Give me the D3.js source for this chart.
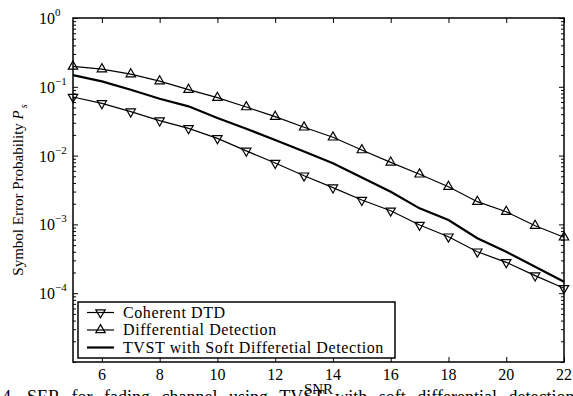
<!DOCTYPE html>
<html>
<head>
<meta charset="utf-8">
<script src="https://cdn.jsdelivr.net/npm/d3@7"></script>
<style>
  body { margin: 0; background: #fff; }
  svg { display: block; }
  text { font-family: "Liberation Serif", "Times New Roman", serif; fill: #000; }
</style>
</head>
<body>
<svg id="chart" width="573" height="396"></svg>
<script>
// SNR (dB) sample points
const snr = [5, 6, 7, 8, 9, 10, 11, 12, 13, 14, 15, 16, 17, 18, 19, 20, 21, 22];

// symbol error probability
const coherentDTD = [0.0711, 0.0575, 0.0435, 0.0322, 0.0249, 0.0178, 0.0117, 0.0078, 0.0051,
    0.00342, 0.00226, 0.00158, 0.00098, 0.000663, 0.000401, 0.000281, 0.00018, 0.000118];
const diffDetection = [0.198, 0.181, 0.153, 0.121, 0.091, 0.0695, 0.0508, 0.0368, 0.0258,
    0.01845, 0.01205, 0.00798, 0.00535, 0.00353, 0.00214, 0.00153, 0.000957, 0.000649];
const tvstSoft = [0.148, 0.12, 0.0906, 0.067, 0.052, 0.0352, 0.0246, 0.0169, 0.0115,
    0.00773, 0.0048, 0.00299, 0.00171, 0.00116, 0.000628, 0.0004, 0.000243, 0.000147];

const xTicks = [6, 8, 10, 12, 14, 16, 18, 20, 22];
const yTickExps = [0, -1, -2, -3, -4];
const legendLabels = ["Coherent DTD", "Differential Detection", "TVST with Soft Differetial Detection"];

/**************************************************************************************************/
const svg = d3.select("#chart");
const mLeft = 73, mRight = 564, mTop = 18, mBottom = 362;

const x = d3.scaleLinear().domain([5, 22]).range([mLeft, mRight]);
const y = d3.scaleLog().domain([1e-5, 1]).range([mBottom, mTop]);

// frame + ticks (ticks point inwards, like matlab)
const majorY = yTickExps.map(e => Math.pow(10, e));
const minorY = y.ticks().filter(v => !majorY.some(m => Math.abs(m - v) < 1e-12));

svg.append("g")
    .attr("transform", `translate(0,${mBottom})`)
    .call(d3.axisBottom(x).tickValues(xTicks).tickSize(-5).tickFormat(""));
svg.append("g")
    .attr("transform", `translate(0,${mTop})`)
    .call(d3.axisTop(x).tickValues(xTicks).tickSize(-5).tickFormat(""));
svg.append("g")
    .attr("transform", `translate(${mLeft},0)`)
    .call(d3.axisLeft(y).tickValues(majorY).tickSize(-5).tickFormat(""));
svg.append("g")
    .attr("transform", `translate(${mRight},0)`)
    .call(d3.axisRight(y).tickValues(majorY).tickSize(-5).tickFormat(""));
svg.append("g")
    .attr("transform", `translate(${mLeft},0)`)
    .call(d3.axisLeft(y).tickValues(minorY).tickSize(-3).tickFormat(""));
svg.append("g")
    .attr("transform", `translate(${mRight},0)`)
    .call(d3.axisRight(y).tickValues(minorY).tickSize(-3).tickFormat(""));

svg.selectAll(".domain").remove();
svg.selectAll(".tick line").attr("stroke", "#000").attr("stroke-width", 1);

svg.append("rect")
    .attr("x", mLeft).attr("y", mTop)
    .attr("width", mRight - mLeft).attr("height", mBottom - mTop)
    .attr("fill", "none").attr("stroke", "#000").attr("stroke-width", 1.5);

// tick labels
svg.append("g").selectAll("text")
    .data(xTicks)
    .join("text")
        .attr("x", d => x(d))
        .attr("y", 380)
        .attr("text-anchor", "middle")
        .attr("font-size", 16)
        .text(d => d);

const yl = svg.append("g").selectAll("text")
    .data(yTickExps)
    .join("text")
        .attr("x", 39)
        .attr("y", d => y(Math.pow(10, d)) + 6)
        .attr("font-size", 16);
yl.append("tspan").text("10");
yl.append("tspan")
    .attr("dy", -8)
    .attr("font-size", 11)
    .text(d => d === 0 ? "0" : "\u2212" + (-d));

// figure caption, cut by the bottom edge of the picture
svg.append("text")
    .attr("x", 2).attr("y", 403)
    .attr("font-size", 18)
    .attr("word-spacing", 7)
    .text("4.  SER for fading channel using TVST with soft differential detection");

// axis titles
svg.append("text")
    .attr("x", (mLeft + mRight) / 2)
    .attr("y", 394)
    .attr("text-anchor", "middle")
    .attr("font-size", 15)
    .text("SNR");

const ylab = svg.append("text")
    .attr("transform", `translate(23,${(mTop + mBottom) / 2}) rotate(-90)`)
    .attr("text-anchor", "middle")
    .attr("font-size", 15);
ylab.append("tspan").text("Symbol Error Probability ");
ylab.append("tspan").attr("font-style", "italic").text("P");
ylab.append("tspan").attr("dy", 4).attr("dx", 2).attr("font-size", 10).attr("font-style", "italic").text("s");

// curves
const line = d3.line().x((d, i) => x(snr[i])).y(d => y(d));
const plot = svg.append("g");

plot.append("path").datum(coherentDTD)
    .attr("d", line).attr("fill", "none").attr("stroke", "#000").attr("stroke-width", 1.2);
plot.append("path").datum(diffDetection)
    .attr("d", line).attr("fill", "none").attr("stroke", "#000").attr("stroke-width", 1.2);
plot.append("path").datum(tvstSoft)
    .attr("d", line).attr("fill", "none").attr("stroke", "#000").attr("stroke-width", 2.2);

const tri = d3.symbol().type(d3.symbolTriangle).size(38);
plot.selectAll(".dn")
    .data(coherentDTD)
    .join("path")
        .attr("class", "dn")
        .attr("d", tri)
        .attr("transform", (d, i) => `translate(${x(snr[i])},${y(d)}) rotate(180)`)
        .attr("fill", "none").attr("stroke", "#000").attr("stroke-width", 1.2);
plot.selectAll(".up")
    .data(diffDetection)
    .join("path")
        .attr("class", "up")
        .attr("d", tri)
        .attr("transform", (d, i) => `translate(${x(snr[i])},${y(d)})`)
        .attr("fill", "none").attr("stroke", "#000").attr("stroke-width", 1.2);

// legend
const lg = svg.append("g");
lg.append("rect")
    .attr("x", 78).attr("y", 302).attr("width", 317).attr("height", 56)
    .attr("fill", "#fff").attr("stroke", "#000").attr("stroke-width", 1.5);
const rows = lg.selectAll("g.row")
    .data(legendLabels)
    .join("g")
        .attr("class", "row")
        .attr("transform", (d, i) => `translate(0,${312.5 + i * 17.5})`);
rows.append("line")
    .attr("x1", 87).attr("x2", 114)
    .attr("stroke", "#000").attr("stroke-width", (d, i) => i === 2 ? 2.2 : 1.2);
rows.filter((d, i) => i < 2).append("path")
    .attr("d", tri)
    .attr("transform", (d, i) => `translate(100.5,0) rotate(${i === 0 ? 180 : 0})`)
    .attr("fill", "none").attr("stroke", "#000").attr("stroke-width", 1.2);
rows.append("text")
    .attr("x", 123).attr("y", 5)
    .attr("font-size", 16)
    .attr("letter-spacing", 0.6)
    .text(d => d);
</script>
</body>
</html>
